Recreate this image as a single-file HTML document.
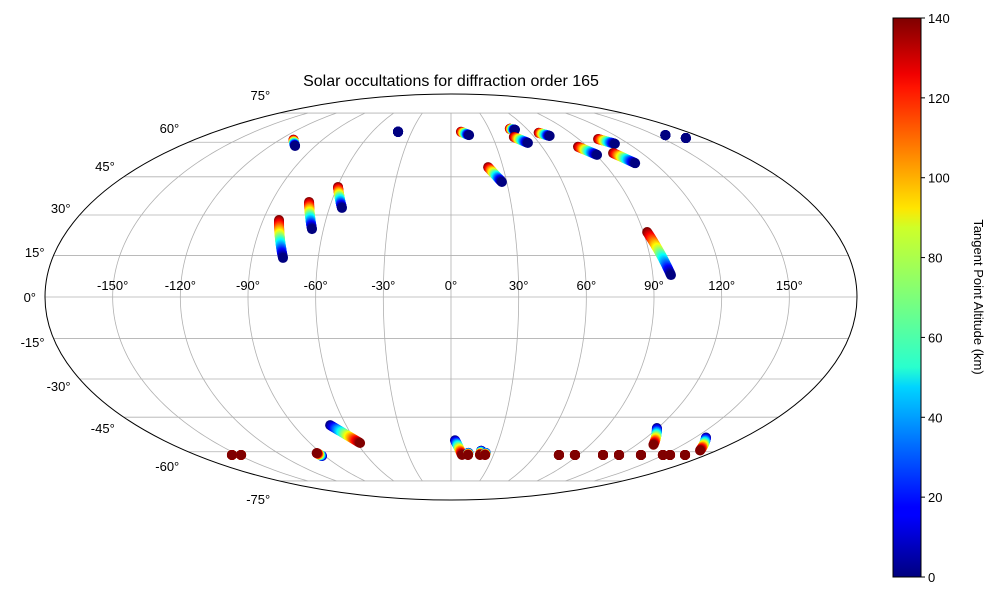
<!DOCTYPE html>
<html><head><meta charset="utf-8">
<style>
body{margin:0;background:#fff;font-family:"Liberation Sans",sans-serif;}
svg text{font-family:"Liberation Sans",sans-serif;font-size:13px;fill:#000;}
</style></head>
<body>
<svg id="chart" width="1000" height="600" viewBox="0 0 1000 600" xmlns="http://www.w3.org/2000/svg">
<defs>
<clipPath id="ell"><ellipse cx="451" cy="297" rx="406" ry="203"/></clipPath>
<linearGradient id="jet" x1="0" y1="1" x2="0" y2="0">
<stop offset="0" stop-color="#00007f"/><stop offset="0.11" stop-color="#0000ff"/>
<stop offset="0.125" stop-color="#0000ff"/><stop offset="0.34" stop-color="#00d4ff"/>
<stop offset="0.375" stop-color="#29ffce"/><stop offset="0.5" stop-color="#7dff7a"/>
<stop offset="0.625" stop-color="#ceff29"/><stop offset="0.66" stop-color="#ffe500"/>
<stop offset="0.875" stop-color="#ff1400"/><stop offset="0.9" stop-color="#f00000"/>
<stop offset="1" stop-color="#7f0000"/>
</linearGradient>
</defs>
<text x="451" y="86" text-anchor="middle" style="font-size:16px">Solar occultations for diffraction order 165</text>
<g id="grid" clip-path="url(#ell)"></g>
<ellipse cx="451" cy="297" rx="406" ry="203" fill="none" stroke="#000" stroke-width="1"/>
<g id="lonlabels"></g>
<g id="latlabels"></g>
<g id="points"></g>
<g>
<rect x="893" y="18" width="28" height="559" fill="url(#jet)" stroke="#000" stroke-width="1"/>
<g id="cbticks"></g>
<text transform="translate(974,297) rotate(90)" text-anchor="middle">Tangent Point Altitude (km)</text>
</g>
</svg>
<script>
const trackLon0 = [-110.5,-40.4,7.6,46.6,45.3,66.1,83.7,103.8,101.9,157.6,167.5,21.4,-71.2,-59.6,-82.4,91.8, -69.1,2.5,-154.6,-148.2,-92,12,20.5,24,76.2,87.5,107.3,118.6,134.1,149.6,154.6,165.2,119.5,156.7];
const trackLat0 = [61.2,65,65,66.5,62.5,64.5,57.9,61.5,55.1,63.4,62,49.0,35.0,40.9,28.1,23.6, -48.3,-54.8,-61.5,-61.5,-62,-60.5,-59.5,-60.5,-61.5,-61.5,-61.5,-61.5,-61.5,-61.5,-61.5,-61.5,-49.5,-53.6];
const trackLon1 = [-103.5,-40.4,13.3,50,52.4,71.9,90.7,110.8,108.6,157.6,167.5,27.4,-65.4,-53.8,-75.9,98.1, -58.0,7.8,-154.6,-148.2,-93.1,12,20.5,24,76.2,87.5,107.3,118.6,134.1,149.6,154.6,165.2,130.9,168.7];
const trackLat1 = [58.3,65,63.4,66,59.7,63,54.3,59.3,50.7,63.4,62,42.9,24.7,32.7,14.1,7.9, -56.0,-61.5,-61.5,-61.5,-60.6,-61.5,-61.5,-61.5,-61.5,-61.5,-61.5,-61.5,-61.5,-61.5,-61.5,-61.5,-56.8,-59.4];
const altStart = [140,20,140,140,140,140,140,140,140,10,10,140,140,140,140,140, 0,0,0,0,0,0,0,0,120,120,120,120,120,120,120,120,0,0];
const altEnd = [0,0,0,0,0,0,0,0,0,0,0,0,0,0,0,0, 140,140,140,140,140,140,140,140,140,140,140,140,140,140,140,140,140,140];
const lonTicks = [-150,-120,-90,-60,-30,0,30,60,90,120,150];
const latTicks = [75,60,45,30,15,0,-15,-30,-45,-60,-75];
const cbTicks = [0,20,40,60,80,100,120,140];

const CX=451, CY=297, RX=406, RY=203, NS="http://www.w3.org/2000/svg";
function theta(latDeg){
  const p=latDeg*Math.PI/180; if(Math.abs(p)>=Math.PI/2-1e-9) return Math.sign(p)*Math.PI/2;
  let t=p; for(let i=0;i<60;i++){const f=2*t+Math.sin(2*t)-Math.PI*Math.sin(p); t-=f/(2+2*Math.cos(2*t)+1e-12);} return t;
}
function proj(lon,lat){const t=theta(lat);return [CX+RX*(lon/180)*Math.cos(t), CY-RY*Math.sin(t)];}
function jet(v){const t=Math.max(0,Math.min(1,v/140));
  const c=x=>Math.round(255*Math.max(0,Math.min(1,1.5-Math.abs(4*t-x))));
  return `rgb(${c(3)},${c(2)},${c(1)})`;}

const grid=document.getElementById('grid');
latTicks.forEach(L=>{
  const [x1,y]=proj(-180,L),[x2]=proj(180,L);
  const ln=document.createElementNS(NS,'line');
  
  
  ln.setAttribute('x1',x1);ln.setAttribute('x2',x2);ln.setAttribute('y1',y);ln.setAttribute('y2',y);
  ln.setAttribute('stroke','#b0b0b0');ln.setAttribute('stroke-width','0.8');grid.appendChild(ln);
});
lonTicks.forEach(Lo=>{
  let d='';for(let la=-75;la<=75;la+=1){const [x,y]=proj(Lo,la);d+=(d?'L':'M')+x.toFixed(2)+','+y.toFixed(2);}
  const p=document.createElementNS(NS,'path');
  
  
  p.setAttribute('d',d);p.setAttribute('fill','none');p.setAttribute('stroke','#b0b0b0');p.setAttribute('stroke-width','0.8');grid.appendChild(p);
});
const lonG=document.getElementById('lonlabels');
lonTicks.forEach(Lo=>{
  const [x]=proj(Lo,0);
  const t=document.createElementNS(NS,'text');
  
  
  t.setAttribute('x',x);t.setAttribute('y',290);t.setAttribute('text-anchor','middle');
  t.textContent=Lo+'°';lonG.appendChild(t);
});
const latG=document.getElementById('latlabels');
latTicks.forEach(L=>{
  const [x,y]=proj(-180,L);
  const t=document.createElementNS(NS,'text');
  
  
  t.setAttribute('x',x-9);t.setAttribute('y',y+5-L*0.24);t.setAttribute('text-anchor','end');
  t.textContent=L+'°';latG.appendChild(t);
});
const ptG=document.getElementById('points');
for(let i=0;i<trackLon0.length;i++){
  const n=40;
  for(let k=0;k<=n;k++){
    const f=k/n;
    const lon=trackLon0[i]+(trackLon1[i]-trackLon0[i])*f;
    const lat=trackLat0[i]+(trackLat1[i]-trackLat0[i])*f;
    const alt=altStart[i]+(altEnd[i]-altStart[i])*f;
    const [x,y]=proj(lon,lat);
    const c=document.createElementNS(NS,'circle');
    
    
    c.setAttribute('cx',x.toFixed(2));c.setAttribute('cy',y.toFixed(2));c.setAttribute('r','5');
    c.setAttribute('fill',jet(alt));ptG.appendChild(c);
  }
}
const cbG=document.getElementById('cbticks');
cbTicks.forEach(v=>{
  const y=577-559*v/140;
  const ln=document.createElementNS(NS,'line');
  
  
  ln.setAttribute('x1',921);ln.setAttribute('x2',925);ln.setAttribute('y1',y);ln.setAttribute('y2',y);ln.setAttribute('stroke','#000');
  cbG.appendChild(ln);
  const t=document.createElementNS(NS,'text');
  
  
  t.setAttribute('x',928);t.setAttribute('y',y+5);t.textContent=v;cbG.appendChild(t);
});
</script>
</body></html>
